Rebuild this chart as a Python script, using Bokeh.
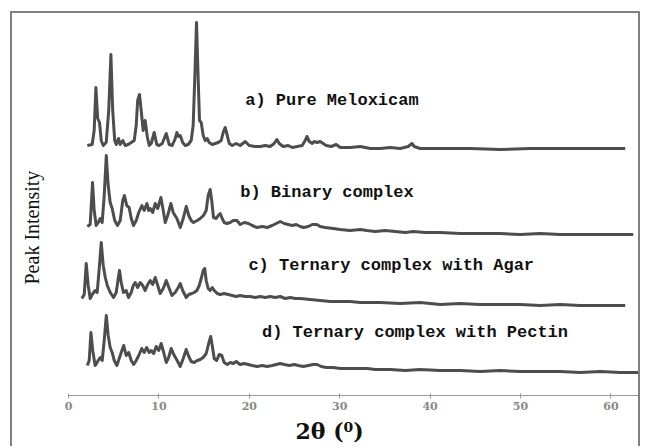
import math
from bokeh.plotting import figure
from bokeh.models import Range1d, Label, FixedTicker, Title
from bokeh.embed import file_html
from bokeh.resources import INLINE

# ---- data: 2-theta (degrees) and peak intensity (a.u.) per sample ----
theta_a = [2.08, 2.62, 2.84, 3.03, 3.23, 3.43, 3.62, 3.84, 4.17, 4.45, 4.69, 4.89, 5.11, 5.28, 5.53, 5.72,
           6.02, 6.27, 6.60, 6.94, 7.27, 7.49, 7.65, 7.85, 8.04, 8.26, 8.48, 8.71, 8.93, 9.15, 9.48, 9.76,
           10.03, 10.37, 10.81, 11.14, 11.47, 11.81, 11.99, 12.19, 12.36, 12.63, 12.91, 13.24, 13.57, 13.79,
           13.96, 14.16, 14.35, 14.49, 14.68, 14.90, 15.12, 15.34, 15.56, 15.90, 16.23, 16.56, 16.89, 17.11,
           17.33, 17.56, 17.78, 18.11, 18.55, 18.99, 19.55, 19.99, 20.65, 21.21, 21.76, 22.31, 22.75, 23.05,
           23.31, 23.75, 24.31, 24.75, 25.30, 25.85, 26.18, 26.37, 26.63, 26.96, 27.18, 27.51, 27.84, 28.17,
           28.51, 29.06, 29.61, 30.06, 31.16, 32.27, 33.38, 34.48, 35.59, 36.69, 37.58, 37.99, 38.24, 38.90,
           41.12, 44.44, 47.75, 51.07, 54.39, 57.71, 61.58]
int_a = [30, 40, 180, 610, 300, 260, 80, 30, 60, 380, 940, 380, 80, 40, 100, 40,
         80, 30, 40, 60, 80, 230, 480, 540, 380, 180, 280, 120, 30, 50, 160, 40,
         30, 50, 150, 40, 30, 100, 160, 120, 130, 60, 30, 40, 80, 230,
         680, 1260, 680, 280, 260, 130, 80, 100, 60, 40, 50, 60, 80, 160,
         210, 130, 50, 30, 50, 30, 70, 30, 20, 20, 30, 20, 50, 90,
         50, 20, 30, 10, 20, 30, 80, 120, 70, 50, 70, 60, 70, 50,
         30, 20, 40, 10, 10, 20, 0, 0, 10, 0, 20, 50, 20, 0,
         0, 0, -10, 0, 0, 0, 0]

theta_b = [2.08, 2.40, 2.66, 2.84, 3.06, 3.29, 3.51, 3.73, 3.95, 4.18, 4.39, 4.61, 4.83, 5.11, 5.42, 5.72,
           6.00, 6.19, 6.44, 6.71, 6.94, 7.19, 7.49, 7.77, 8.12, 8.37, 8.67, 8.87, 9.04, 9.31, 9.59, 9.87,
           10.22, 10.48, 10.70, 10.97, 11.33, 11.58, 11.99, 12.36, 12.69, 13.02, 13.30, 13.57, 13.83, 14.24,
           14.57, 14.93, 15.23, 15.45, 15.67, 15.84, 16.04, 16.34, 16.56, 16.78, 17.00, 17.22, 17.52, 17.89,
           18.22, 18.63, 18.99, 19.44, 19.91, 20.32, 20.84, 21.43, 21.98, 22.53, 22.98, 23.42, 23.86, 24.30,
           24.75, 25.19, 25.63, 26.00, 26.52, 26.96, 27.48, 27.84, 28.40, 29.28, 30.06, 31.16, 32.27, 33.01,
           33.93, 35.04, 36.15, 37.25, 38.13, 39.46, 41.12, 43.33, 45.54, 47.75, 49.97, 52.18, 54.39, 56.60,
           58.82, 61.03, 62.47]
int_b = [80, 100, 520, 240, 90, 120, 160, 120, 390, 790, 490, 320, 260, 140, 90, 140,
         340, 390, 290, 270, 160, 90, 140, 220, 290, 240, 310, 240, 260, 220, 310, 260,
         370, 240, 120, 190, 310, 220, 160, 70, 160, 280, 190, 140, 120, 140,
         160, 190, 240, 390, 450, 340, 170, 160, 190, 210, 160, 120, 110, 120,
         140, 140, 100, 120, 110, 90, 70, 80, 70, 90, 110, 130, 110, 100,
         90, 100, 80, 70, 80, 100, 100, 80, 70, 60, 50, 40, 50, 40,
         30, 40, 30, 20, 30, 20, 20, 10, 10, 10, 0, 10, 0, 0,
         0, 0, 0]

theta_c = [1.48, 1.74, 1.96, 2.18, 2.40, 2.62, 2.95, 3.17, 3.40, 3.62, 3.84, 4.07, 4.29, 4.62, 4.98, 5.28,
           5.50, 5.64, 5.83, 6.08, 6.38, 6.64, 6.94, 7.16, 7.38, 7.65, 7.93, 8.21, 8.48, 8.76, 9.04, 9.31,
           9.59, 9.87, 10.14, 10.48, 10.81, 11.14, 11.44, 11.80, 12.14, 12.36, 12.63, 13.02, 13.30, 13.65,
           13.90, 14.20, 14.46, 14.68, 14.90, 15.07, 15.23, 15.45, 15.67, 15.90, 16.12, 16.45, 16.78, 17.22,
           17.67, 18.11, 18.55, 18.99, 19.55, 20.10, 20.65, 21.21, 21.76, 22.31, 22.87, 23.42, 23.97, 24.53,
           25.08, 25.63, 26.74, 27.84, 28.95, 30.06, 31.16, 32.27, 34.48, 36.69, 38.90, 41.12, 43.33, 45.54,
           47.75, 49.97, 52.18, 54.39, 56.60, 58.82, 61.58]
int_c = [70, 110, 420, 200, 70, 110, 150, 130, 370, 630, 400, 280, 200, 130, 80, 130,
         270, 350, 230, 130, 150, 80, 130, 200, 230, 180, 230, 200, 150, 210, 250, 210,
         280, 200, 120, 170, 250, 170, 100, 130, 180, 220, 150, 80, 110, 120,
         130, 150, 200, 270, 350, 370, 250, 170, 150, 180, 150, 120, 110, 120,
         110, 100, 90, 100, 90, 90, 80, 90, 80, 90, 80, 90, 70, 80,
         70, 70, 60, 50, 40, 40, 40, 30, 30, 20, 30, 10, 20, 10,
         10, 10, 0, 10, 0, 0, 0]

theta_d = [2.08, 2.29, 2.48, 2.68, 2.95, 3.29, 3.51, 3.73, 3.95, 4.18, 4.39, 4.61, 4.83, 5.06, 5.35, 5.61,
           5.91, 6.11, 6.38, 6.66, 6.94, 7.21, 7.49, 7.77, 8.10, 8.37, 8.65, 8.93, 9.15, 9.42, 9.70, 9.98,
           10.25, 10.53, 10.81, 11.08, 11.36, 11.64, 12.02, 12.36, 12.69, 13.02, 13.30, 13.57, 13.90, 14.24,
           14.57, 14.90, 15.23, 15.51, 15.73, 15.90, 16.12, 16.39, 16.67, 16.95, 17.22, 17.56, 17.89, 18.22,
           18.55, 18.99, 19.44, 19.88, 20.32, 20.87, 21.43, 21.98, 22.53, 22.98, 23.42, 23.86, 24.42, 24.97,
           25.41, 25.97, 26.52, 27.07, 27.51, 27.95, 28.51, 29.28, 30.06, 31.16, 32.27, 33.04, 33.93, 35.59,
           37.25, 38.90, 41.12, 43.33, 45.54, 47.75, 49.97, 52.18, 54.39, 56.60, 58.82, 61.03, 63.00]
int_d = [70, 120, 400, 220, 70, 120, 150, 120, 320, 570, 370, 250, 200, 120, 70, 140,
         220, 270, 170, 200, 120, 80, 120, 170, 240, 200, 250, 200, 220, 190, 260, 220,
         290, 200, 100, 150, 240, 180, 120, 60, 140, 230, 160, 110, 100, 120,
         130, 150, 190, 290, 360, 270, 140, 120, 180, 170, 100, 80, 100, 90,
         110, 80, 90, 80, 70, 60, 70, 60, 70, 80, 90, 80, 70, 80,
         70, 60, 70, 80, 80, 60, 50, 50, 40, 40, 40, 40, 30, 30,
         20, 30, 20, 20, 10, 20, 10, 10, 10, 0, 10, 0, 0]

sample_names = ["a) Pure Meloxicam", "b) Binary complex",
                "c) Ternary complex with Agar", "d) Ternary complex with Pectin"]
x_ticks = [0, 10, 20, 30, 40, 50, 60]

# vertical stacking offsets of the four patterns (a.u.)
offsets = [2470, 1610, 900, 230]
label_x = [19.55, 19.0, 19.9, 21.4]
label_y = [2950, 2033, 1300, 633]

LINE = "#4d4d4d"

p = figure(frame_width=570, frame_height=380, output_backend="svg", toolbar_location=None,
           x_range=Range1d(0, 63.05), y_range=Range1d(0, 3800),
           min_border_left=56, min_border_right=0, min_border_top=2, min_border_bottom=0)
p.margin = (11, 0, 0, 10)
p.styles = {"border-left": "2px solid #808080", "border-top": "2px solid #808080",
            "border-right": "2px solid #808080"}
p.outline_line_color = None
p.grid.visible = False
p.background_fill_color = "white"
p.border_fill_color = "white"

# blank y axis: only keeps a gap between the frame and the "Peak Intensity" title
yax = p.yaxis[0]
yax.ticker = FixedTicker(ticks=[])
yax.axis_line_color = None
yax.major_tick_line_color = None
yax.minor_tick_line_color = None
yax.major_tick_in = 0
yax.major_tick_out = 0
yax.minor_tick_out = 0
yax.major_label_standoff = 0
yax.axis_label = " "
yax.axis_label_text_font_size = "1px"
yax.axis_label_standoff = 21

series = [(theta_a, int_a), (theta_b, int_b), (theta_c, int_c), (theta_d, int_d)]
for (tx, iy), off in zip(series, offsets):
    p.line(tx, [v + off for v in iy], line_width=3, line_color=LINE, line_join="round")

for name, lx, ly in zip(sample_names, label_x, label_y):
    p.add_layout(Label(x=lx, y=ly, text=name, text_font="Liberation Mono", text_font_style="bold",
                       text_font_size="17px", text_color="#111111", text_baseline="middle"))

ax = p.xaxis[0]
ax.ticker = FixedTicker(ticks=x_ticks)
ax.axis_line_color = "#999999"
ax.major_tick_line_color = "#999999"
ax.major_tick_out = 3
ax.major_tick_in = 2
ax.minor_tick_line_color = None
ax.major_label_text_font = "DejaVu Serif"
ax.major_label_text_font_style = "bold"
ax.major_label_text_font_size = "11px"
ax.major_label_text_color = "#888888"
ax.major_label_standoff = 3

p.add_layout(Title(text="2θ (⁰)", align="left", offset=227, standoff=6, vertical_align="bottom",
                   text_font="DejaVu Serif", text_font_style="bold", text_font_size="22px",
                   text_color="#111111"), "below")
p.add_layout(Title(text="Peak Intensity", align="left", offset=111, standoff=2, vertical_align="bottom",
                   text_font="Liberation Serif", text_font_style="normal", text_font_size="20px",
                   text_color="#111111"), "left")

open("out.html", "w").write(file_html(p, INLINE))
